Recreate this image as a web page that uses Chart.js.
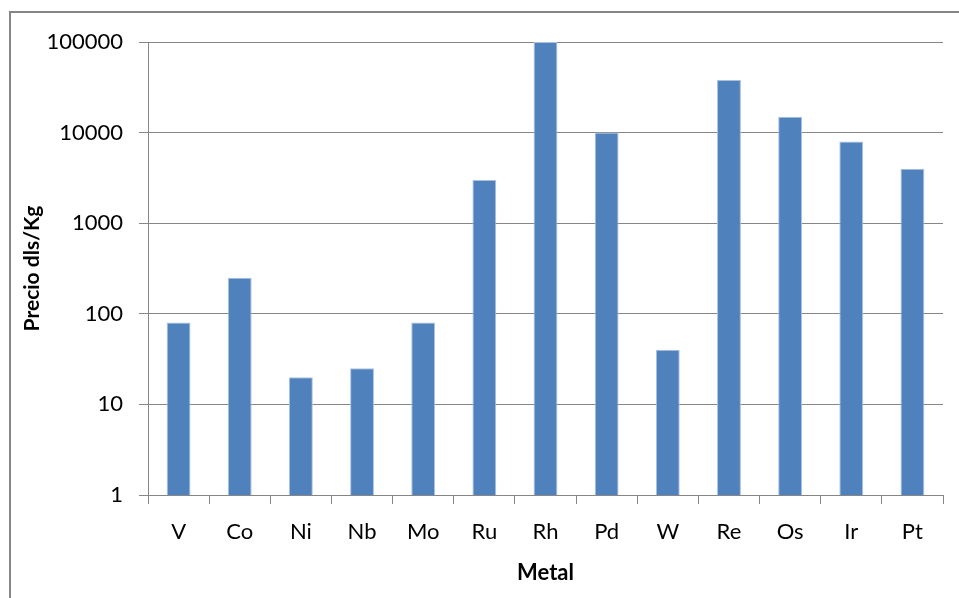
<!DOCTYPE html>
<html>
<head>
<meta charset="utf-8">
<script src="https://cdn.jsdelivr.net/npm/chart.js@4"></script>
<style>
  html, body { margin: 0; padding: 0; background: #fff; overflow: hidden; }
  #wrap { position: relative; width: 959px; height: 598px; }
  #frame { position: absolute; left: 9px; top: 11px; width: 1000px; height: 700px;
           border: 2px solid #868686; box-sizing: border-box; }
  #chart { position: absolute; left: 0; top: 0; }
</style>
</head>
<body>
<div id="wrap">
  <div id="frame"></div>
  <canvas id="chart" width="959" height="598"></canvas>
</div>
<script>
// precios por kg de cada metal
const metals = ['V', 'Co', 'Ni', 'Nb', 'Mo', 'Ru', 'Rh', 'Pd', 'W', 'Re', 'Os', 'Ir', 'Pt'];
const prices = [80, 250, 20, 25, 80, 3000, 100000, 10000, 40, 38000, 15000, 8000, 4000];
const yTicks = [1, 10, 100, 1000, 10000, 100000];

const font = 'Lato';
const ctx = document.getElementById('chart').getContext('2d');

new Chart(ctx, {
    type: 'bar',
    data: {
        labels: metals,
        datasets: [{
            data: prices,
            backgroundColor: '#4f81bd',
            borderColor: '#a9c1df',
            borderWidth: 1,
            barPercentage: 0.78,
            categoryPercentage: 0.5
        }]
    },
    options: {
        responsive: false,
        animation: false,
        layout: { padding: { left: 0, top: 42, right: 16, bottom: 0 } },
        plugins: {
            legend: { display: false },
            tooltip: { enabled: false }
        },
        scales: {
            x: {
                afterFit: (scale) => { scale.height = 103; },
                grid: {
                    drawOnChartArea: false,
                    tickLength: 9,
                    color: '#868686',
                    lineWidth: 1
                },
                border: { color: '#868686' },
                ticks: {
                    color: '#000',
                    padding: 15,
                    font: { family: font, size: 22 }
                },
                title: {
                    display: true,
                    text: 'Metal',
                    color: '#000',
                    padding: { top: 4, bottom: 12 },
                    font: { family: font, size: 22, weight: 'bold' }
                }
            },
            y: {
                type: 'logarithmic',
                min: 1,
                max: 100000,
                afterFit: (scale) => { scale.width = 148; },
                afterBuildTicks: (scale) => {
                    scale.ticks = yTicks.map(v => ({ value: v }));
                },
                grid: {
                    tickLength: 9,
                    color: '#868686',
                    lineWidth: 1
                },
                border: { color: '#868686' },
                ticks: {
                    color: '#000',
                    padding: 16,
                    font: { family: font, size: 22 },
                    callback: (v) => String(v)
                },
                title: {
                    display: true,
                    text: 'Precio dls/Kg',
                    color: '#000',
                    padding: { top: 20, bottom: 0 },
                    font: { family: font, size: 21, weight: 'bold' }
                }
            }
        }
    }
});
</script>
</body>
</html>
